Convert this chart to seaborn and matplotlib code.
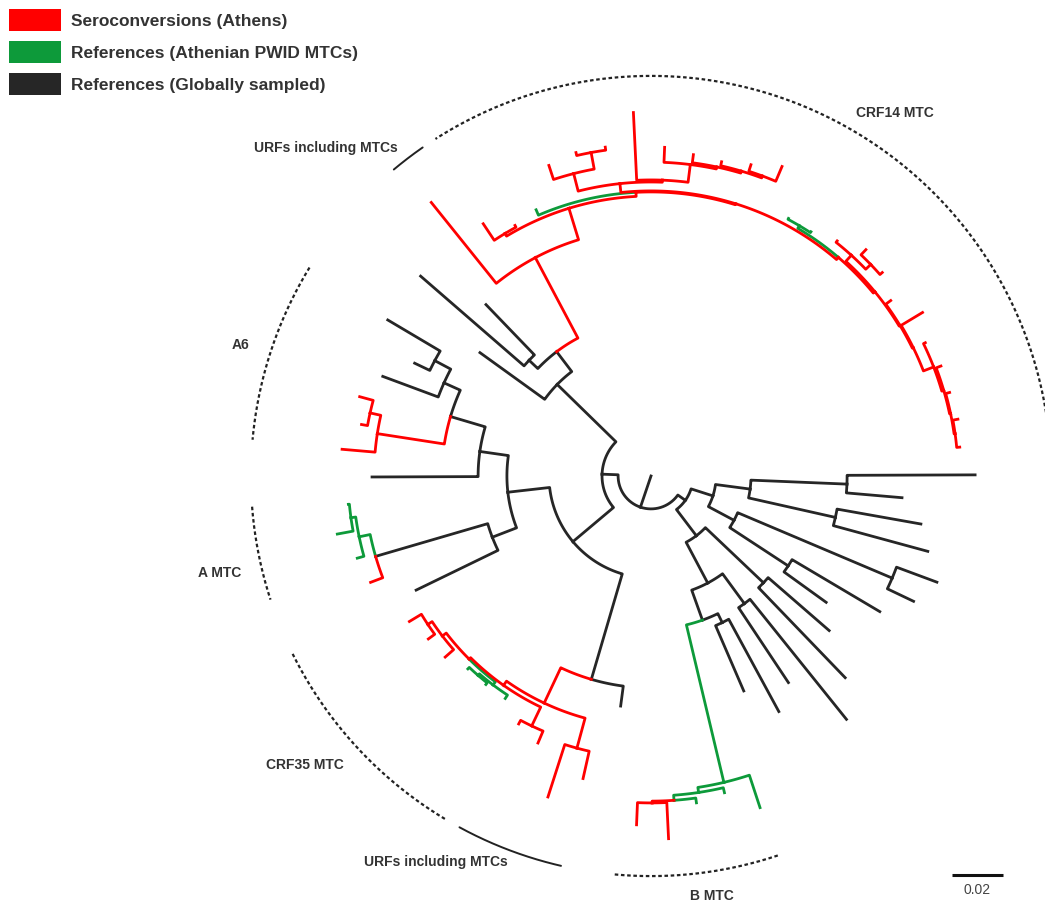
import re
import numpy as np
import pandas as pd
import seaborn as sns
from matplotlib import pyplot as plt
from matplotlib.patches import Patch

# Circular ML tree, Newick-like. After every node: colour code and its
# distance from the root (substitutions/site).
# r = seroconversions (Athens), g = Athenian PWID MTC refs, k = global refs
CRF14_TAIL = "((((((r:0.1216,r:0.1224)r:0.1204,r:0.1216)r:0.1200,r:0.1216)r:0.1196,r:0.1196)r:0.1188,r:0.1243)r:0.1145,r:0.1165)r:0.1141"
CRF14_MID = "((r:0.1208,r:0.1224)r:0.1196,r:0.1176)r:0.1169"
CRF14_GREEN = "(g:0.1145,g:0.1145)g:0.1141"
CRF14_COMB = "(((((r:0.1318,r:0.1282)r:0.1255,r:0.1263)r:0.1247,r:0.1271)r:0.1239,r:0.1290)r:0.1231,r:0.1427)r:0.1161"
CRF14_TOP = "((r:0.1302,r:0.1302)r:0.1290,r:0.1282)r:0.1224"
A6 = "((((k:0.1200,k:0.1027)k:0.0961,k:0.1122)k:0.0890,((r:0.1184,r:0.1153)r:0.1129,r:0.1216)r:0.1086)k:0.0820,k:0.1094)k:0.0678"
A_MTC = "((((g:0.1192,g:0.1251)g:0.1188,g:0.1196)g:0.1169,r:0.1176)k:0.1125,k:0.1024)k:0.0667"
CRF35 = ("((((((r:0.1106,r:0.1082)r:0.1051,r:0.1075)r:0.1031,((g:0.1043,g:0.1043)g:0.1035,g:0.1043)g:0.1027)r:0.1012,"
         "(r:0.1102,r:0.1137)r:0.1086)r:0.1004,(r:0.1322,r:0.1216)r:0.1106)r:0.0984,k:0.0910)k:0.0831")
B_MTC = "((((r:0.1369,r:0.1424)r:0.1282,g:0.1294)g:0.1275,g:0.1275)g:0.1255,g:0.1369)g:0.1235"
B_REFS_1 = "(k:0.0918,k:0.1051)k:0.0639", "(k:0.0973,k:0.1224)k:0.0620", "(k:0.1098,k:0.0925)k:0.0608"
B_REFS_2 = ("(((k:0.0847,k:0.1043)k:0.0643,(k:0.1141,k:0.1196)k:0.1027)k:0.0369,"
            "((k:0.1125,k:0.1075)k:0.0741,(k:0.0988,k:0.1271)k:0.0769)k:0.0392)k:0.0255")

GROUPS = {'r': 'Seroconversions (Athens)',
          'g': 'References (Athenian PWID MTCs)',
          'k': 'References (Globally sampled)'}
COLOURS = {'r': '#ff0000', 'g': '#0d9a3a', 'k': '#262626'}

CLADE_NAMES = ['CRF14 MTC', 'URFs including MTCs', 'A6', 'A MTC',
               'CRF35 MTC', 'URFs including MTCs', 'B MTC']
CLADE_SPANS = [(2.0, 122.6), (124.8, 130.0), (148.6, 174.8), (184.4, 198.0),
               (206.4, 239.0), (241.4, 257.0), (264.8, 288.5)]
CLADE_DOTTED = [True, False, True, True, True, False, True]
LABEL_POLAR = [(56.1, 0.1714), (134.8, 0.1812), (162.3, 0.1690), (192.7, 0.1733),
               (219.9, 0.1769), (240.8, 0.1733), (278.3, 0.1663)]
BRACKET_R = 0.1569
SCALE_LEN = 0.02


def build_newick():
    crf14 = ("((((((" + CRF14_TAIL + "," + CRF14_MID + ")r:0.1137," + CRF14_GREEN + ")r:0.1129,("
             + CRF14_COMB + "," + CRF14_TOP + ")r:0.1153)r:0.1118,g:0.1137)r:0.1114,"
             "(r:0.1118,r:0.1188)r:0.1110)r:0.1098,r:0.1376)r:0.0969")
    n1 = "((" + crf14 + ",(k:0.0933,k:0.1196)k:0.0659)k:0.0612,k:0.0827)k:0.0514"
    nl = "((" + A6 + "," + A_MTC + ")k:0.0565," + CRF35 + ")k:0.0400"
    na = "(" + n1 + "," + nl + ")k:0.0192"
    nb1 = ("(((" + B_MTC + "," + B_REFS_1[0] + ")k:0.0600," + B_REFS_1[1] + ")k:0.0475,"
           + B_REFS_1[2] + ")k:0.0294")
    nb = "(" + nb1 + "," + B_REFS_2 + ")k:0.0165"
    return "(" + na + "," + nb + ")k:0.0129"


def parse_newick(text):
    pos = 0

    def node():
        nonlocal pos
        kids = []
        if text[pos] == '(':
            pos += 1
            kids.append(node())
            while text[pos] == ',':
                pos += 1
                kids.append(node())
            pos += 1
        m = re.match(r'([rgk]):([0-9.]+)', text[pos:])
        pos += m.end()
        return {'group': m.group(1), 'depth': float(m.group(2)), 'kids': kids}

    return node()


def count_leaves(nd):
    return 1 if not nd['kids'] else sum(count_leaves(k) for k in nd['kids'])


def layout(root, start_deg=0.2):
    step = 360.0 / count_leaves(root)
    seen = [0]

    def walk(nd):
        if not nd['kids']:
            seen[0] += 1
            nd['angle'] = start_deg + seen[0] * step
        else:
            for kid in nd['kids']:
                walk(kid)
            nd['angle'] = (nd['kids'][0]['angle'] + nd['kids'][-1]['angle']) / 2

    walk(root)


def branch_table(root):
    rows = []
    seg = [0]

    def add(points, group):
        for a, d in points:
            t = np.radians(a)
            rows.append((seg[0], d * np.cos(t), d * np.sin(t), group))
        seg[0] += 1

    add([(root['angle'], 0.0), (root['angle'], root['depth'])], root['group'])

    def walk(nd):
        for kid in nd['kids']:
            n = max(2, int(abs(kid['angle'] - nd['angle']) * 2) + 2)
            pts = [(a, nd['depth']) for a in np.linspace(nd['angle'], kid['angle'], n)]
            pts.append((kid['angle'], kid['depth']))
            add(pts, kid['group'])
            walk(kid)

    walk(root)
    return pd.DataFrame(rows, columns=['seg', 'x', 'y', 'group'])


tree = parse_newick(build_newick())
layout(tree)
branches = branch_table(tree)

sns.set_theme(style='white')
plt.rcParams['font.family'] = ['Liberation Sans', 'DejaVu Sans']

fig = plt.figure(figsize=(10.45, 9.07), dpi=100)
ax = fig.add_axes([0, 0, 1, 1])
px = 2550.0  # pixels per unit of divergence
ax.set_xlim(-651 / px, (1045 - 651) / px)
ax.set_ylim(-(907 - 476) / px, 476 / px)
ax.set_axis_off()

sns.lineplot(data=branches, x='x', y='y', units='seg', estimator=None, sort=False,
             hue='group', hue_order=['k', 'g', 'r'], palette=COLOURS,
             linewidth=2.0, legend=False, ax=ax, solid_capstyle='projecting')

for name, (a0, a1), dotted, (la, lr) in zip(CLADE_NAMES, CLADE_SPANS, CLADE_DOTTED, LABEL_POLAR):
    t = np.radians(np.linspace(a0, a1, 200))
    ax.plot(BRACKET_R * np.cos(t), BRACKET_R * np.sin(t), color='#222222',
            lw=1.6 if dotted else 1.4, linestyle=(0, (1.6, 1.2)) if dotted else '-')
    ax.text(lr * np.cos(np.radians(la)), lr * np.sin(np.radians(la)), name,
            ha='center', va='center', fontsize=10, fontweight='bold', color='#333333')

sx, sy = (952 - 651) / px, (476 - 875) / px
ax.plot([sx, sx + SCALE_LEN], [sy, sy], color='#111111', lw=2.2, solid_capstyle='butt')
ax.text(sx + SCALE_LEN / 2, sy - 15 / px, f'{SCALE_LEN:.2f}', ha='center', va='center',
        fontsize=10, color='#444444')

handles = [Patch(facecolor=COLOURS[c], edgecolor='none', label=GROUPS[c]) for c in 'rgk']
ax.legend(handles=handles, loc='upper left', bbox_to_anchor=(0.004, 0.996), frameon=False,
          prop={'weight': 'bold', 'size': 12.5}, handlelength=3.0, handleheight=1.62,
          handletextpad=0.55, labelspacing=0.54, borderpad=0.3, borderaxespad=0,
          labelcolor='#333333')

fig.savefig('out.png', dpi=100)
